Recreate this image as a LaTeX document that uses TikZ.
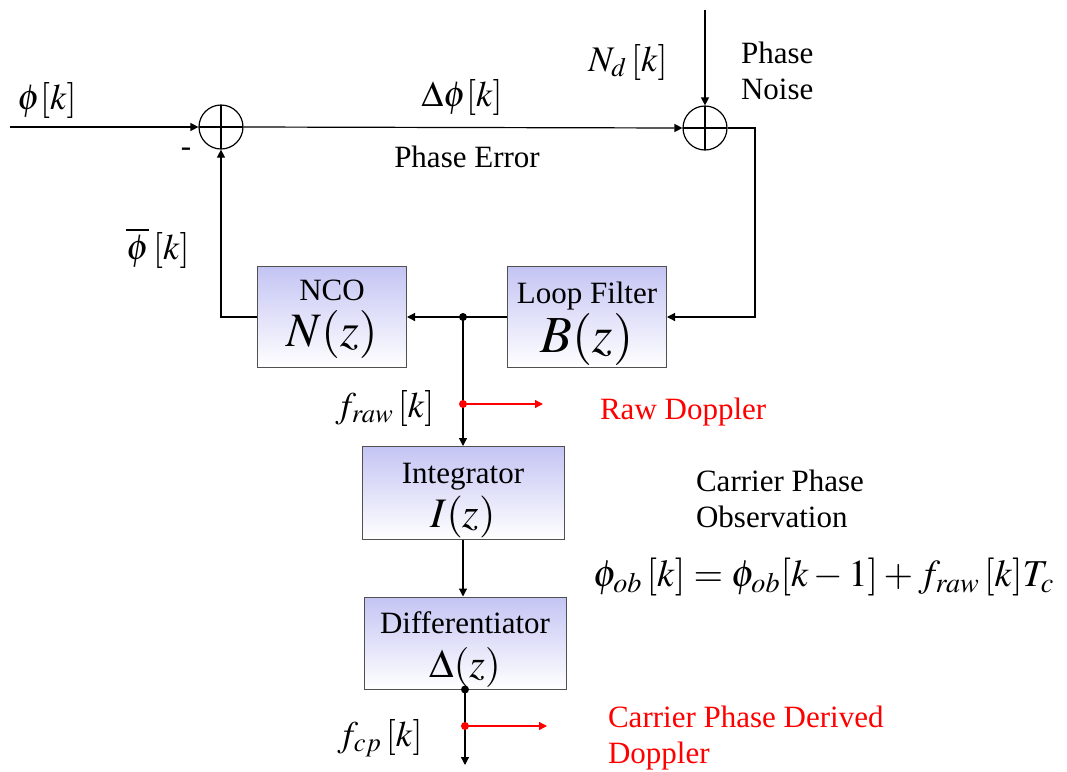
\documentclass[tikz,border=0pt]{standalone}
\usepackage{mathptmx}
\usepackage{fontspec}
\setmainfont{Liberation Serif}
\newfontfamily\letra{Liberation Serif}
\usetikzlibrary{arrows.meta, positioning, calc}
\definecolor{lavanda}{RGB}{196, 196, 244}
\definecolor{bordegris}{RGB}{80, 80, 80}
\begin{document}
\begin{tikzpicture}[
                x=0.5pt, y=-0.5pt,
                font=\letra\fontsize{15.5}{18}\selectfont,
                bloque/.style={
                    rectangle,
                    draw=bordegris,
                    line width=0.5pt,
                    top color=lavanda,
                    bottom color=white,
                    align=center,
                    inner sep=0pt
                },
                suma/.style={
                    circle,
                    draw,
                    line width=0.6pt,
                    minimum size=22pt,
                    inner sep=0pt,
                    path picture={
                        \draw[line width=0.6pt] (path picture bounding box.north) -- (path picture bounding box.south)
                            (path picture bounding box.west) -- (path picture bounding box.east);
                    }
                },
                flecha/.style={line width=0.6pt, -{Triangle[length=4pt, width=4pt]}},
                punto/.style={circle, fill, inner sep=0pt, minimum size=4pt}
            ]
                \useasboundingbox (0,0) rectangle (1067,772);
                \node[suma] (sumin) at (221,127) {};
                \node[suma] (sumruido) at (705,128) {};
                \node[bloque, minimum width=74.5pt, minimum height=50.5pt] (nco) at (332,317) {\rule{0pt}{12.5pt}NCO\\[4pt]{\fontsize{24}{24}\selectfont$N(z)$}};
                \node[bloque, minimum width=79.5pt, minimum height=50.5pt] (filtro) at (587,317) {\rule{0pt}{17.5pt}Loop Filter\\[1pt]{\fontsize{26}{26}\selectfont$B(z)$}};
                \node[bloque, minimum width=101pt, minimum height=46.5pt] (integ) at (463,493) {\rule{0pt}{17.5pt}Integrator\\[2pt]{\fontsize{21}{21}\selectfont$I(z)$}};
                \node[bloque, minimum width=101pt, minimum height=46pt] (difer) at (465,643) {\rule{0pt}{17.5pt}Differentiator\\[4pt]{\fontsize{20}{20}\selectfont$\Delta(z)$}};
                \coordinate (entrada) at (10,127);
                \coordinate (ruidoarriba) at (705,10);
                \coordinate (esquina) at (755,128);
                \coordinate (toma) at (463,317);
                \coordinate (rawpt) at (463,404);
                \coordinate (rawfin) at (543,404);
                \coordinate (salida) at (465,765);
                \coordinate (cppt) at (465,726);
                \coordinate (cpfin) at (547,726);
                \draw[flecha] (entrada) -- (sumin.west);
                \draw[flecha] (sumin.east) -- (sumruido.west);
                \draw[flecha] (ruidoarriba) -- (sumruido.north);
                \draw[flecha] (sumruido.east) -- (esquina) |- (filtro.east);
                \draw[flecha] (filtro.west) -- (nco.east);
                \draw[flecha] (nco.west) -| (sumin.south);
                \draw[flecha] (toma) -- (integ.north);
                \draw[flecha] (integ.south) -- (integ.south |- difer.north);
                \draw[flecha] (difer.south) -- (salida);
                \node[punto] at (toma) {};
                \node[punto] at (difer.south) {};
                \node[punto, red] at (rawpt) {};
                \node[punto, red] at (cppt) {};
                \draw[flecha, red] (rawpt) -- (rawfin);
                \draw[flecha, red] (cppt) -- (cpfin);
                \node[font=\fontsize{18}{18}\selectfont] (lphi) at (47,100) {$\phi[k]$};
                \node (lmenos) at (186,152) {-};
                \node[font=\fontsize{18}{18}\selectfont] (ldelta) at (462,97) {$\Delta\phi[k]$};
                \node (lerror) at (467,157) {Phase Error};
                \node[font=\fontsize{18}{18}\selectfont] (lnd) at (628,62) {$N_d\,[k]$};
                \node[align=left, anchor=west] (lruido) at (734,71) {Phase\\Noise};
                \node[font=\fontsize{18}{18}\selectfont] (lbarra) at (158,248) {$\overline{\phi}\,[k]$};
                \node[font=\fontsize{18}{18}\selectfont] (lfraw) at (385,408) {$f_{\mathit{raw}}\,[k]$};
                \node[red, anchor=west] (lrawdop) at (593,412) {Raw Doppler};
                \node[align=left, anchor=west] (lobs) at (689,499) {Carrier Phase\\Observation};
                \node[font=\fontsize{19}{19}\selectfont] (lecu) at (824,577) {$\phi_{ob}\,[k]=\phi_{ob}[k-1]+f_{\mathit{raw}}\,[k]T_c$};
                \node[font=\fontsize{18}{18}\selectfont] (lfcp) at (380,738) {$f_{cp}\,[k]$};
                \node[red, align=left, anchor=west] (lcpdop) at (601,738) {Carrier Phase Derived\\Doppler};
            \end{tikzpicture}
\end{document}
